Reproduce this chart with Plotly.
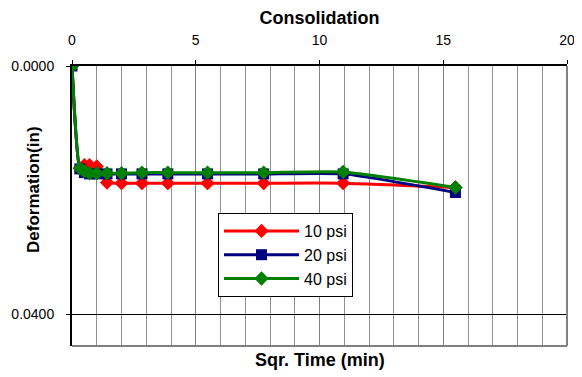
import plotly.graph_objects as go

# square root of elapsed time (min) at each reading
sqrt_time = [0, 0.316, 0.5, 0.707, 1.0, 1.414, 2.0, 2.828, 3.873, 5.477, 7.746, 10.954, 15.492]

deform_10psi = [0, 0.0165, 0.0160, 0.0160, 0.0162, 0.0188, 0.0189, 0.0189, 0.0189, 0.0189, 0.0189, 0.0189, 0.0196]
deform_20psi = [0, 0.0166, 0.0172, 0.0174, 0.0174, 0.0174, 0.0174, 0.0174, 0.0174, 0.0174, 0.0174, 0.0174, 0.0204]
deform_40psi = [0, 0.0165, 0.0170, 0.0173, 0.0173, 0.0173, 0.0173, 0.0172, 0.0172, 0.0172, 0.0172, 0.0171, 0.0196]

SERIES = [
    ("10 psi", deform_10psi, "#ff0000", "diamond", 11),
    ("20 psi", deform_20psi, "#000080", "square", 11),
    ("40 psi", deform_40psi, "#008000", "diamond", 11),
]

FONT = "Liberation Sans, Arial, sans-serif"

# the page body keeps its default 8px margin, so the figure is sized to fit inside it
W, H = 574, 369
L, R, T, B = 64, 15, 58, 31
plot_w, plot_h = W - L - R, H - T - B

fig = go.Figure()
for name, values, color, symbol, size in SERIES:
    fig.add_trace(
        go.Scatter(
            x=sqrt_time,
            y=values,
            name=name,
            mode="lines+markers",
            line=dict(color=color, width=3, shape="spline", smoothing=0.5),
            marker=dict(symbol=symbol, size=size, color=color),
        )
    )

fig.update_layout(
    width=W,
    height=H,
    margin=dict(l=L, r=R, t=T, b=B, autoexpand=False),
    paper_bgcolor="white",
    plot_bgcolor="white",
    font=dict(family=FONT, size=14, color="black"),
    title=dict(
        text="<b>Consolidation</b>",
        font=dict(size=18),
        x=(L + plot_w / 2) / W,
        xanchor="center",
        y=1 - 10 / H,
        yanchor="middle",
    ),
    legend=dict(
        x=(218 - 72) / plot_w,
        y=1 - (213 - 66) / plot_h,
        xanchor="left",
        yanchor="top",
        bgcolor="white",
        bordercolor="black",
        borderwidth=1,
        font=dict(size=16),
        itemwidth=75,
        tracegroupgap=0,
    ),
    showlegend=True,
)

fig.update_xaxes(
    side="top",
    range=[0, 20],
    dtick=5,
    ticks="outside",
    ticklen=4,
    tickcolor="black",
    ticklabelstandoff=9,
    automargin=False,
    showgrid=True,
    gridcolor="#808080",
    gridwidth=1,
    minor=dict(dtick=1, showgrid=True, gridcolor="#909090", gridwidth=1),
    showline=True,
    linecolor="black",
    linewidth=2,
    zeroline=False,
)

fig.update_yaxes(
    range=[0.04516, 0],
    tickvals=[0, 0.04],
    tickformat=".4f",
    ticks="outside",
    ticklen=4,
    tickcolor="black",
    ticklabelstandoff=9,
    automargin=False,
    showgrid=True,
    gridcolor="black",
    gridwidth=1,
    showline=True,
    linecolor="black",
    linewidth=2,
    zeroline=False,
)

# grey frame on the bottom and right of the plot area
fig.add_shape(type="line", xref="paper", yref="paper", x0=0, x1=1, y0=0, y1=0,
              line=dict(color="#808080", width=2))
fig.add_shape(type="line", xref="paper", yref="paper", x0=1, x1=1, y0=0, y1=1,
              line=dict(color="#808080", width=2))

fig.add_annotation(
    text="<b>Sqr. Time (min)</b>",
    xref="paper", yref="paper",
    x=0.5, y=-14 / plot_h,
    xanchor="center", yanchor="middle",
    showarrow=False,
    font=dict(size=18),
)
fig.add_annotation(
    text="<b>Deformation(in)</b>",
    xref="paper", yref="paper",
    x=(33 - 72) / plot_w, y=1 - (190 - 66) / plot_h,
    xanchor="center", yanchor="middle",
    textangle=-90,
    showarrow=False,
    font=dict(size=17),
)

fig.write_html("out.html")
